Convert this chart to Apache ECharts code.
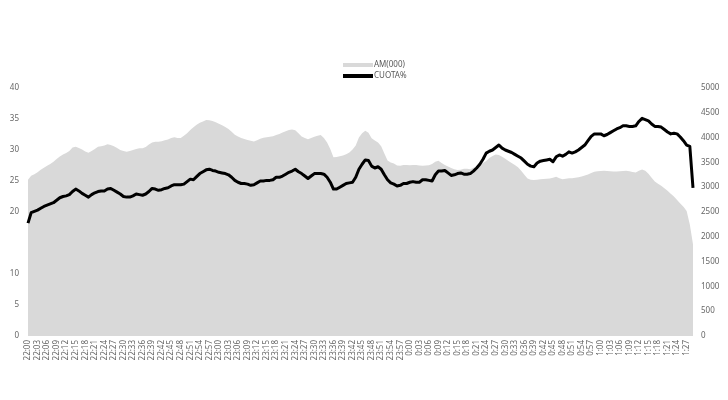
<!DOCTYPE html>
<html>
<head>
<meta charset="utf-8">
<script src="https://cdn.jsdelivr.net/npm/echarts@6/dist/echarts.min.js"></script>
<style>html,body{margin:0;padding:0;background:#fff}#c{width:728px;height:400px}</style>
</head>
<body>
<div id="c"></div>
<script>
// Time categories: one per minute, 22:00 -> 1:29
const startHour = 22;
const minutesCount = 210;
const categories = [];
for (let k = 0; k < minutesCount; k++) {
  const t = startHour * 60 + k;
  const h = Math.floor(t / 60) % 24;
  const m = t % 60;
  categories.push(h + ':' + (m < 10 ? '0' + m : m));
}

// AM(000) — audience in thousands (right axis)
const amValues = [
  3150,3230,3260,3300,3350,3390,3430,3470,3515,3570,
  3620,3660,3690,3730,3800,3817,3790,3760,3720,3696,
  3730,3770,3815,3825,3840,3865,3850,3825,3790,3750,
  3730,3716,3730,3750,3770,3784,3784,3810,3860,3900,
  3918,3918,3925,3945,3960,3990,4005,3990,3990,4035,
  4090,4155,4210,4260,4300,4325,4355,4350,4335,4310,
  4280,4250,4215,4175,4120,4055,4020,3990,3970,3950,
  3935,3920,3945,3975,3995,4008,4015,4025,4050,4075,
  4105,4130,4155,4165,4150,4090,4020,3990,3965,3990,
  4015,4035,4050,3990,3900,3770,3605,3610,3625,3640,
  3665,3700,3760,3840,4000,4090,4140,4100,3985,3940,
  3900,3825,3680,3540,3500,3480,3440,3430,3448,3450,
  3445,3450,3448,3440,3430,3435,3445,3470,3515,3534,
  3490,3450,3415,3385,3360,3347,3350,3372,3370,3362,
  3390,3415,3445,3490,3530,3590,3630,3660,3650,3612,
  3575,3530,3490,3450,3400,3330,3250,3175,3150,3145,
  3150,3160,3165,3170,3175,3190,3210,3180,3160,3170,
  3178,3182,3190,3199,3215,3235,3255,3285,3310,3320,
  3328,3333,3328,3320,3315,3318,3322,3328,3333,3320,
  3305,3295,3330,3358,3330,3270,3190,3115,3070,3030,
  2980,2930,2870,2810,2740,2670,2605,2520,2250,1850
];

// CUOTA% — share (left axis)
const cuotaValues = [
  18.2,19.9,20.1,20.3,20.6,20.9,21.1,21.3,21.5,21.9,
  22.3,22.5,22.6,22.8,23.3,23.7,23.4,23.0,22.7,22.4,
  22.8,23.1,23.3,23.4,23.4,23.7,23.8,23.5,23.2,22.9,
  22.5,22.4,22.4,22.6,22.9,22.8,22.7,22.9,23.3,23.8,
  23.7,23.5,23.6,23.8,23.9,24.2,24.4,24.4,24.4,24.5,
  24.9,25.3,25.2,25.7,26.2,26.5,26.8,26.9,26.7,26.6,
  26.4,26.3,26.2,26.0,25.6,25.1,24.8,24.6,24.6,24.5,
  24.3,24.4,24.7,25.0,25.0,25.1,25.1,25.2,25.6,25.6,
  25.8,26.1,26.4,26.6,26.9,26.5,26.2,25.8,25.4,25.8,
  26.2,26.2,26.2,26.1,25.6,24.8,23.7,23.7,24.0,24.3,
  24.6,24.7,24.8,25.6,26.9,27.7,28.4,28.3,27.4,27.1,
  27.3,26.9,26.0,25.2,24.7,24.5,24.2,24.3,24.6,24.6,
  24.8,24.9,24.8,24.8,25.2,25.2,25.1,25.0,26.0,26.6,
  26.6,26.7,26.3,25.9,26.0,26.2,26.3,26.1,26.1,26.2,
  26.6,27.1,27.7,28.5,29.5,29.8,30.0,30.4,30.8,30.3,
  30.0,29.8,29.6,29.3,29.0,28.7,28.2,27.7,27.4,27.3,
  27.9,28.2,28.3,28.4,28.5,28.1,28.9,29.2,29.0,29.3,
  29.7,29.5,29.7,30.0,30.4,30.8,31.5,32.2,32.6,32.6,
  32.6,32.3,32.5,32.8,33.1,33.4,33.6,33.9,33.9,33.8,
  33.8,33.9,34.6,35.1,34.9,34.7,34.2,33.8,33.8,33.7,
  33.3,32.9,32.6,32.7,32.6,32.1,31.5,30.8,30.6,23.9
];

const leftTicks = [0, 5, 10, 15, 20, 25, 30, 35, 40];
const hiddenLeftTicks = [15];
const rightTicks = [0, 500, 1000, 1500, 2000, 2500, 3000, 3500, 4000, 4500, 5000];

const FONT = 'Noto Sans';
const LABEL_COLOR = '#666666';

const chart = echarts.init(document.getElementById('c'), null, { renderer: 'canvas' });
chart.setOption({
  animation: false,
  backgroundColor: '#ffffff',
  textStyle: { fontFamily: FONT },
  legend: {
    orient: 'vertical',
    left: 338,
    top: 56,
    itemWidth: 30,
    itemHeight: 4,
    itemGap: 3,
    textStyle: { fontSize: 8, color: '#595959', fontFamily: FONT, padding: [0, 0, 0, -4] },
    data: [
      { name: 'AM(000)', icon: 'rect', itemStyle: { color: '#d9d9d9' } },
      { name: 'CUOTA%', icon: 'rect', itemStyle: { color: '#000000' } }
    ]
  },
  grid: { left: 28, right: 35, top: 88, bottom: 64, containLabel: false },
  xAxis: {
    type: 'category',
    data: categories,
    boundaryGap: false,
    axisLine: { show: false },
    axisTick: { show: false },
    axisLabel: {
      interval: 2,
      rotate: 90,
      fontSize: 8,
      color: LABEL_COLOR,
      fontFamily: FONT,
      margin: 4
    },
    splitLine: { show: false }
  },
  yAxis: [
    {
      type: 'value',
      min: leftTicks[0],
      max: leftTicks[leftTicks.length - 1],
      interval: 5,
      position: 'left',
      axisLine: { show: false },
      axisTick: { show: false },
      splitLine: { show: false },
      axisLabel: {
        fontSize: 8,
        color: LABEL_COLOR,
        fontFamily: FONT,
        margin: 9,
        formatter: v => hiddenLeftTicks.indexOf(v) >= 0 ? '' : String(v)
      }
    },
    {
      type: 'value',
      min: rightTicks[0],
      max: rightTicks[rightTicks.length - 1],
      interval: 500,
      position: 'right',
      axisLine: { show: false },
      axisTick: { show: false },
      splitLine: { show: false },
      axisLabel: { fontSize: 8, color: LABEL_COLOR, fontFamily: FONT, margin: 8, formatter: v => String(v) }
    }
  ],
  series: [
    {
      name: 'AM(000)',
      type: 'line',
      yAxisIndex: 1,
      data: amValues,
      showSymbol: false,
      symbol: 'none',
      lineStyle: { width: 0, color: '#d9d9d9' },
      itemStyle: { color: '#d9d9d9' },
      areaStyle: { color: '#d9d9d9', opacity: 1 },
      z: 1
    },
    {
      name: 'CUOTA%',
      type: 'line',
      yAxisIndex: 0,
      data: cuotaValues,
      showSymbol: false,
      symbol: 'none',
      lineStyle: { width: 3, color: '#000000', join: 'round' },
      itemStyle: { color: '#000000' },
      z: 3
    }
  ]
});
</script>
</body>
</html>
